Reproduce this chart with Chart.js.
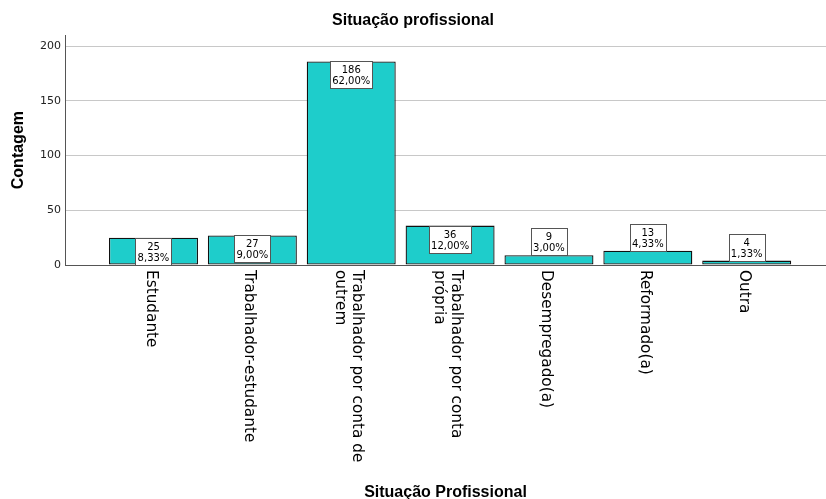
<!DOCTYPE html>
<html lang="pt">
<head>
<meta charset="utf-8">
<title>Situação profissional</title>
<script src="https://cdn.jsdelivr.net/npm/chart.js@4/dist/chart.umd.min.js"></script>
<style>
  html, body { margin: 0; padding: 0; background: #fff; }
  #grafico { display: block; }
</style>
</head>
<body>
<canvas id="grafico" width="826" height="499"></canvas>
<script>
// Categorias (cada uma pode ter duas linhas no eixo)
const categorias = [
    ["Estudante"],
    ["Trabalhador-estudante"],
    ["Trabalhador por conta de", "outrem"],
    ["Trabalhador por conta", "própria"],
    ["Desempregado(a)"],
    ["Reformado(a)"],
    ["Outra"]
];
const contagens = [25, 27, 186, 36, 9, 13, 4];
const percentagens = ["8,33%", "9,00%", "62,00%", "12,00%", "3,00%", "4,33%", "1,33%"];
const ticksY = [0, 50, 100, 150, 200];

const FONTE_TXT = "'DejaVu Sans', sans-serif";
const FONTE_TIT = "'Liberation Sans', Arial, sans-serif";

// Etiquetas das barras: caixa branca com contagem e percentagem
const caixasValores = {
    id: 'caixasValores',
    afterDatasetsDraw(chart) {
        const ctx = chart.ctx;
        const meta = chart.getDatasetMeta(0);
        ctx.save();
        ctx.font = "10px " + FONTE_TXT;
        ctx.textAlign = 'center';
        ctx.textBaseline = 'middle';
        meta.data.forEach((bar, i) => {
            const l1 = String(contagens[i]);
            const l2 = percentagens[i];
            const w = Math.round(Math.max(ctx.measureText(l1).width, ctx.measureText(l2).width) + 4);
            const h = 27;
            const altura = bar.base - bar.y;
            // dentro da barra se houver espaço, senão por cima
            const topo = altura >= 20 ? bar.y : bar.y - h;
            const x0 = Math.round(bar.x - w / 2) + 0.5;
            const y0 = Math.round(topo) + 0.5;
            ctx.fillStyle = '#fff';
            ctx.fillRect(x0, y0, w, h);
            ctx.strokeStyle = '#555';
            ctx.lineWidth = 1;
            ctx.strokeRect(x0, y0, w, h);
            ctx.fillStyle = '#000';
            ctx.fillText(l1, bar.x, y0 + 8.5);
            ctx.fillText(l2, bar.x, y0 + 19.5);
        });
        ctx.restore();
    }
};

// Nomes das categorias rodados 90º (leitura de cima para baixo)
const nomesRodados = {
    id: 'nomesRodados',
    afterDraw(chart) {
        const ctx = chart.ctx;
        const xs = chart.scales.x;
        ctx.save();
        ctx.font = "15.3px " + FONTE_TXT;
        ctx.fillStyle = '#000';
        ctx.textAlign = 'left';
        ctx.textBaseline = 'middle';
        const lh = 17;
        categorias.forEach((linhas, i) => {
            const x = xs.getPixelForValue(i) - 3;
            const topo = xs.top + 5;
            ctx.save();
            ctx.translate(x, topo);
            ctx.rotate(Math.PI / 2);
            const desl = -(linhas.length - 1) * lh / 2;
            linhas.forEach((t, k) => {
                ctx.fillText(t, 0, desl + k * lh);
            });
            ctx.restore();
        });
        ctx.restore();
    }
};

const ctx = document.getElementById('grafico').getContext('2d');
new Chart(ctx, {
    type: 'bar',
    data: {
        datasets: [{
            label: 'Contagem',
            data: contagens.map((v, i) => ({ x: i, y: v })),
            backgroundColor: '#1ecdcb',
            borderColor: '#111',
            borderWidth: 1.3,
            borderSkipped: false,
            barPercentage: 0.9,
            categoryPercentage: 1.0
        }]
    },
    options: {
        responsive: false,
        animation: false,
        events: [],
        layout: { padding: 0 },
        plugins: {
            legend: { display: false },
            tooltip: { enabled: false },
            title: {
                display: true,
                text: 'Situação profissional',
                color: '#000',
                font: { family: FONTE_TIT, size: 16, weight: 'bold' },
                padding: { top: 11, bottom: 5 }
            }
        },
        scales: {
            x: {
                type: 'linear',
                offset: false,
                min: -0.895,
                max: 6.802,
                ticks: { display: false, stepSize: 1, includeBounds: false },
                grid: { display: false, offset: false },
                border: { display: true, color: '#555', width: 1 },
                title: {
                    display: true,
                    text: 'Situação Profissional',
                    color: '#000',
                    font: { family: FONTE_TIT, size: 16, weight: 'bold' },
                    padding: { top: 0, bottom: -3.5 }
                },
                afterFit(scale) { scale.height = 499 - 265; }
            },
            y: {
                min: 0,
                max: 210,
                afterBuildTicks(scale) {
                    scale.ticks = ticksY.map(v => ({ value: v }));
                },
                ticks: {
                    color: '#222',
                    padding: 4,
                    font: { family: FONTE_TXT, size: 11 }
                },
                grid: { color: '#c8c8c8', lineWidth: 1, drawTicks: false },
                border: { display: true, color: '#555', width: 1 },
                title: {
                    display: true,
                    text: 'Contagem',
                    color: '#000',
                    font: { family: FONTE_TIT, size: 16, weight: 'bold' },
                    padding: { top: 8.5, bottom: 0 }
                },
                afterFit(scale) { scale.width = 65; }
            }
        }
    },
    plugins: [caixasValores, nomesRodados]
});
</script>
</body>
</html>
